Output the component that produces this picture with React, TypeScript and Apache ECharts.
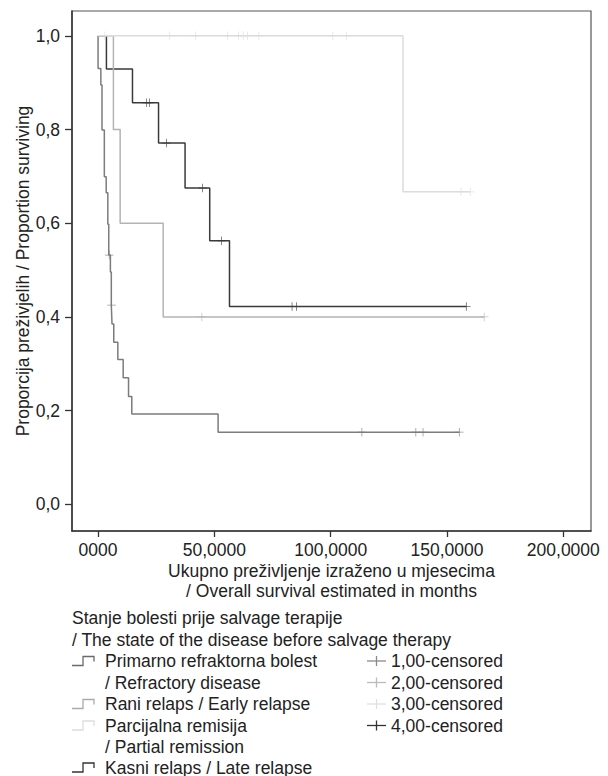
import React, { useEffect, useRef } from "react";
import * as echarts from "echarts";

// Axis ticks
const xTickValues = [0, 50, 100, 150, 200];
const xTickLabels = ["0000", "50,0000", "100,0000", "150,0000", "200,0000"];
const yTickValues = [0, 0.2, 0.4, 0.6, 0.8, 1.0];
const yTickLabels = ["0,0", "0,2", "0,4", "0,6", "0,8", "1,0"];

// Groups
const groupNames = [
  "Primarno refraktorna bolest\n/ Refractory disease",
  "Rani relaps / Early relapse",
  "Parcijalna remisija\n/ Partial remission",
  "Kasni relaps / Late relapse",
];
const censorNames = ["1,00-censored", "2,00-censored", "3,00-censored", "4,00-censored"];
const groupColors = ["#7c7c7c", "#b4b4b4", "#dcdcdc", "#3a3a3a"];

// Group 1: Primarno refraktorna bolest
const g1Times = [0, 0, 1.2, 1.7, 2.7, 3.5, 4.2, 4.6, 5.3, 5.7, 6.0, 6.75, 8.5, 10.8, 13.1, 14.5, 51.6, 155.3];
const g1Surv = [1, 0.93, 0.895, 0.799, 0.699, 0.665, 0.598, 0.532, 0.496, 0.425, 0.385, 0.346, 0.309, 0.27, 0.23, 0.193, 0.154, 0.154];
const g1Censor = [4.8, 5.8, 113.4, 136.6, 139.7, 155.3];

// Group 2: Rani relaps
const g2Times = [0, 6.6, 9.5, 28.0, 166.0];
const g2Surv = [1, 0.8, 0.6, 0.4, 0.4];
const g2Censor = [44.6, 166.0];

// Group 3: Parcijalna remisija
const g3Times = [0, 131.1, 160.0];
const g3Surv = [1, 0.667, 0.667];
const g3Censor = [2.9, 30.8, 41.9, 55.7, 60.4, 62.4, 64.3, 69.1, 100.9, 106.8, 156.0, 160.0];

// Group 4: Kasni relaps
const g4Times = [0, 3.6, 14.8, 26.0, 37.4, 48.0, 56.5, 158.3];
const g4Surv = [1, 0.929, 0.857, 0.771, 0.675, 0.5625, 0.422, 0.422];
const g4Censor = [20.9, 22.1, 29.4, 44.9, 53.1, 83.4, 85.3, 158.3];

const FONT = '"Liberation Sans", Arial, sans-serif';
const FS = 17.5;
const TEXT = "#222";

function survAt(times: number[], surv: number[], t: number) {
  let s = surv[0];
  for (let i = 0; i < times.length; i++) {
    if (times[i] <= t) s = surv[i];
  }
  return s;
}

const plusPath =
  "path://M-0.09,-1 L0.09,-1 L0.09,-0.09 L1,-0.09 L1,0.09 L0.09,0.09 L0.09,1 L-0.09,1 L-0.09,0.09 L-1,0.09 L-1,-0.09 L-0.09,-0.09 Z";

export default function App() {
  const ref = useRef<HTMLDivElement>(null);
  useEffect(() => {
    if (!ref.current) return;
    const chart = echarts.init(ref.current, undefined, { renderer: "svg" });

    const groups = [
      { t: g1Times, s: g1Surv, c: g1Censor },
      { t: g2Times, s: g2Surv, c: g2Censor },
      { t: g3Times, s: g3Surv, c: g3Censor },
      { t: g4Times, s: g4Surv, c: g4Censor },
    ];
    const order = [3, 0, 1, 2];
    const series: any[] = [];
    order.forEach((gi, k) => {
      const g = groups[gi];
      series.push({
        name: groupNames[gi],
        type: "line",
        step: "end",
        symbol: "none",
        z: 2 + k,
        lineStyle: { color: groupColors[gi], width: 1.5 },
        data: g.t.map((t, i) => [t, g.s[i]]),
      });
      series.push({
        name: censorNames[gi],
        type: "scatter",
        symbol: plusPath,
        symbolSize: 8.5,
        z: 2 + k,
        itemStyle: { color: groupColors[gi] },
        data: g.c.map((t) => [t, survAt(g.t, g.s, t)]),
      });
    });

    const graphic: any[] = [];
    // legend title
    graphic.push({
      type: "text",
      style: {
        text: "Stanje bolesti prije salvage terapije\n/ The state of the disease before salvage therapy",
        x: 72,
        y: 607,
        font: `${FS}px ${FONT}`,
        fill: TEXT,
        lineHeight: 22,
      },
    });
    const leftRows = [661, 704, 725.5, 767.5];
    const leftColors = ["#6a6a6a", "#aaaaaa", "#dddddd", "#333333"];
    leftRows.forEach((y, i) => {
      graphic.push({
        type: "polyline",
        shape: { points: [[72, y + 4.5], [83, y + 4.5], [83, y - 4.5], [94, y - 4.5], [94, y + 0.5]] },
        style: { stroke: leftColors[i], lineWidth: 1.3, fill: null },
      });
      const multi = groupNames[i].indexOf("\n") >= 0;
      graphic.push({
        type: "text",
        style: multi
          ? {
              text: groupNames[i],
              x: 105,
              y: y - 10.75,
              font: `${FS}px ${FONT}`,
              fill: TEXT,
              lineHeight: 21.5,
            }
          : {
              text: groupNames[i],
              x: 105,
              y: y,
              font: `${FS}px ${FONT}`,
              fill: TEXT,
              verticalAlign: "middle",
            },
      });
    });
    const rightRows = [661, 682.5, 704, 725.5];
    const rightColors = ["#8a8a8a", "#bbbbbb", "#e0e0e0", "#333333"];
    rightRows.forEach((y, i) => {
      graphic.push({
        type: "line",
        shape: { x1: 367, y1: y, x2: 386, y2: y },
        style: { stroke: rightColors[i], lineWidth: 1.3 },
      });
      graphic.push({
        type: "line",
        shape: { x1: 376.5, y1: y - 5, x2: 376.5, y2: y + 5 },
        style: { stroke: rightColors[i], lineWidth: 1.3 },
      });
      graphic.push({
        type: "text",
        style: {
          text: censorNames[i],
          x: 391,
          y: y,
          font: `${FS}px ${FONT}`,
          fill: TEXT,
          verticalAlign: "middle",
        },
      });
    });

    chart.setOption({
      animation: false,
      backgroundColor: "#ffffff",
      textStyle: { fontFamily: FONT },
      grid: {
        left: 72,
        right: 17,
        top: 11,
        bottom: 245,
        show: true,
        borderColor: "#555",
        borderWidth: 1.2,
        containLabel: false,
      },
      xAxis: {
        type: "value",
        min: -11.2,
        max: 211.9,
        name: "Ukupno preživljenje izraženo u mjesecima\n/ Overall survival estimated in months",
        nameLocation: "middle",
        nameGap: 30,
        nameMoveOverlap: false,
        nameTextStyle: { fontSize: FS, color: TEXT, lineHeight: 20, fontFamily: FONT },
        axisLine: { show: true, onZero: false, lineStyle: { color: "#333", width: 1.5 } },
        axisTick: { show: true, length: 6, customValues: xTickValues, lineStyle: { color: "#333", width: 1.3 } },
        axisLabel: {
          customValues: xTickValues,
          margin: 10,
          fontSize: FS,
          color: TEXT,
          fontFamily: FONT,
          formatter: (v: number) => {
            const i = xTickValues.findIndex((x) => Math.abs(x - v) < 1e-6);
            return i >= 0 ? xTickLabels[i] : "";
          },
        },
        splitLine: { show: false },
      },
      yAxis: {
        type: "value",
        min: -0.057,
        max: 1.053,
        name: "Proporcija preživjelih / Proportion surviving",
        nameLocation: "middle",
        nameGap: 40,
        nameMoveOverlap: false,
        nameTextStyle: { fontSize: FS, color: TEXT, fontFamily: FONT },
        axisLine: { show: true, onZero: false, lineStyle: { color: "#333", width: 1.5 } },
        axisTick: { show: true, length: 7, customValues: yTickValues, lineStyle: { color: "#333", width: 1.3 } },
        axisLabel: {
          customValues: yTickValues,
          margin: 12,
          fontSize: FS,
          color: TEXT,
          fontFamily: FONT,
          formatter: (v: number) => {
            const i = yTickValues.findIndex((x) => Math.abs(x - v) < 1e-6);
            return i >= 0 ? yTickLabels[i] : "";
          },
        },
        splitLine: { show: false },
      },
      series,
      graphic,
    });
    return () => chart.dispose();
  }, []);
  return (
    <div
      ref={ref}
      style={{ position: "fixed", left: 0, top: 0, width: 608, height: 776, background: "#fff" }}
    />
  );
}
